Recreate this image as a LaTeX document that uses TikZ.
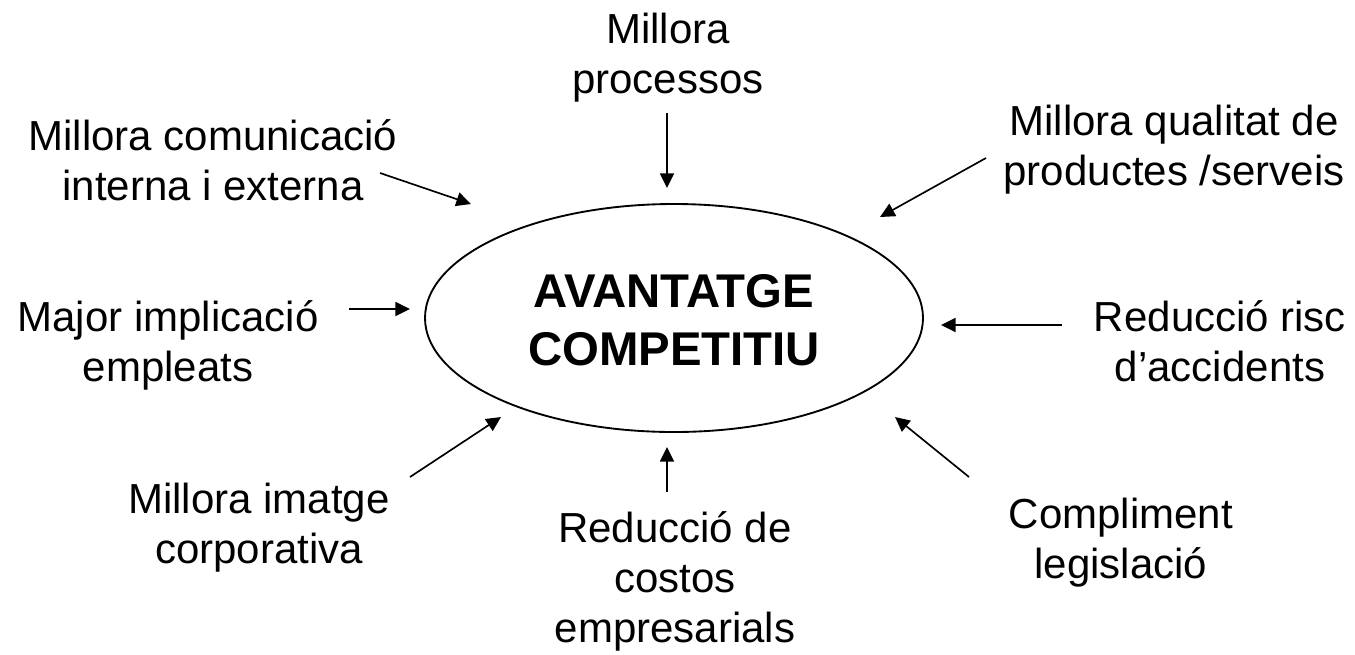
\documentclass[tikz,border=0pt]{standalone}
\usepackage{fontspec}
\setmainfont{Liberation Sans}
\usetikzlibrary{arrows.meta,shapes.geometric}
\tikzset{
  lbl/.style={anchor=base, inner sep=0pt, font=\fontsize{31.5pt}{37.5pt}\selectfont},
  ttl/.style={anchor=base, inner sep=0pt, font=\fontsize{35.5pt}{43.5pt}\selectfont\bfseries},
  arr/.style={line width=1.25pt, -{Triangle[length=11pt,width=10.5pt]}},
  oval/.style={ellipse, draw, line width=1.4pt, inner sep=0pt, minimum width=373.5pt, minimum height=171pt}
}
\newcommand{\lines}[1]{\begin{tabular}[t]{@{}c@{}}#1\end{tabular}}
\begin{document}
\begin{tikzpicture}[x=0.75pt,y=-0.75pt]
\useasboundingbox[fill=white] (0,0) rectangle (1355,654);
% central ellipse
\node[oval] (adv) at (674,318) {};
\node[ttl] (title) at (674,307) {\lines{AVANTATGE\\COMPETITIU}};
% labels
\node[lbl] (proc) at (668,43) {\lines{Millora\\processos}};
\node[lbl] (comu) at (213,150) {\lines{Millora comunicació\\interna i externa}};
\node[lbl] (qual) at (1174,135) {\lines{Millora qualitat de\\productes /serveis}};
\node[lbl] (empl) at (168,331) {\lines{Major implicació\\empleats}};
\node[lbl] (risc) at (1220,331) {\lines{Reducció risc\\d’accidents}};
\node[lbl] (imat) at (259,513) {\lines{Millora imatge\\corporativa}};
\node[lbl] (cost) at (675,542) {\lines{Reducció de\\costos\\empresarials}};
\node[lbl] (legi) at (1121,528) {\lines{Compliment\\legislació}};
% arrow end points
\coordinate (p1s) at (667,113); \coordinate (p1e) at (667,188);
\coordinate (p2s) at (380,173); \coordinate (p2e) at (471,204);
\coordinate (p3s) at (986,158); \coordinate (p3e) at (880,217);
\coordinate (p4s) at (349,309); \coordinate (p4e) at (410,309);
\coordinate (p5s) at (1062,325); \coordinate (p5e) at (941,325);
\coordinate (p6s) at (410,477); \coordinate (p6e) at (501,417);
\coordinate (p7s) at (667,492); \coordinate (p7e) at (667,447);
\coordinate (p8s) at (969,477); \coordinate (p8e) at (895,417);
\foreach \i in {1,...,8} { \draw[arr] (p\i s) -- (p\i e); }
\end{tikzpicture}
\end{document}
